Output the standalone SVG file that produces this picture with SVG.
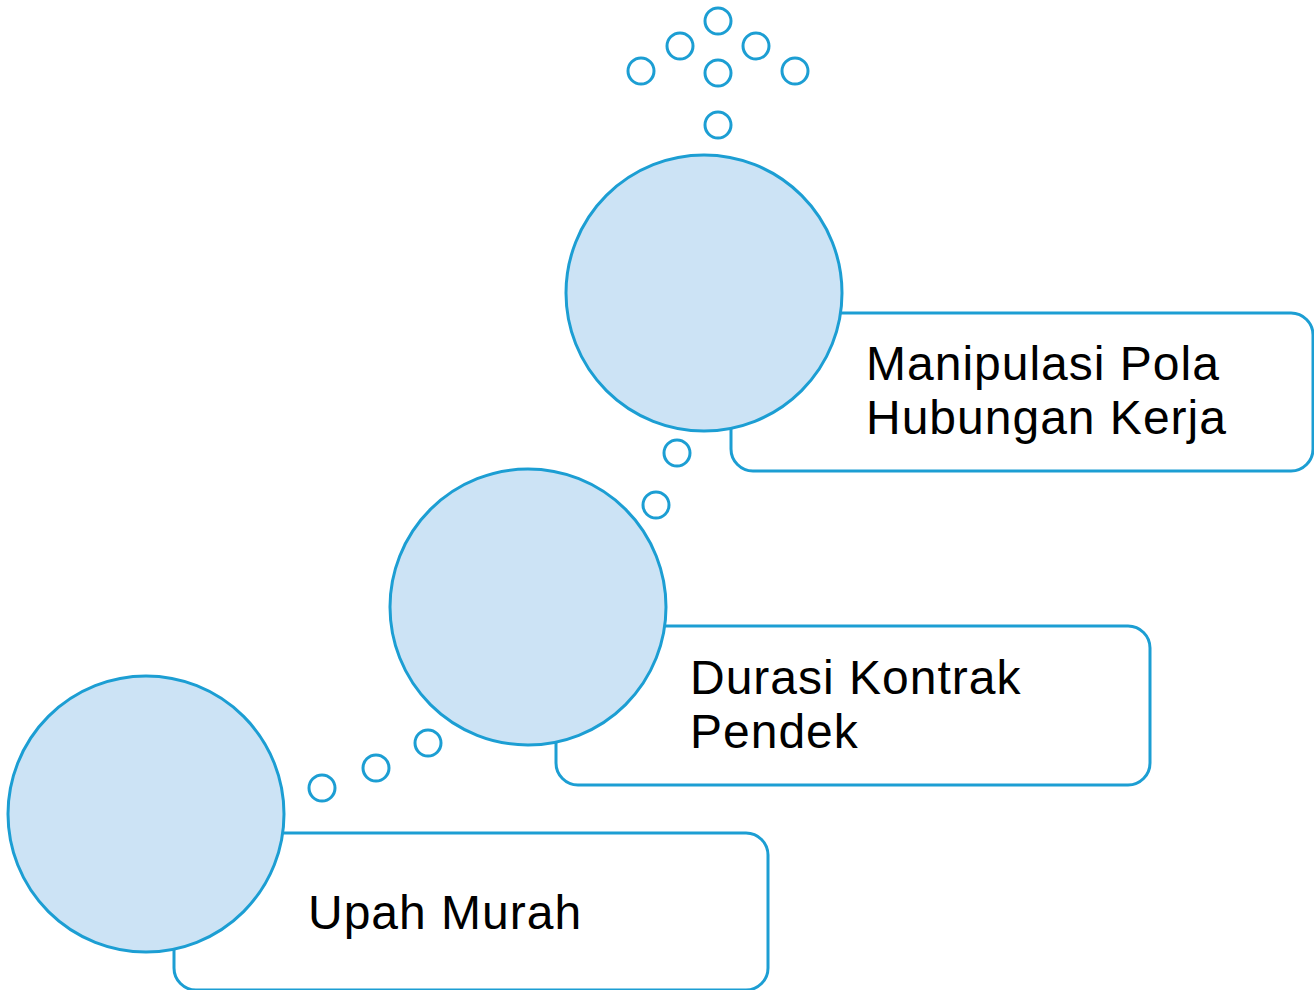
<svg xmlns="http://www.w3.org/2000/svg" width="1314" height="990" viewBox="0 0 1314 990">
<style>
.box{fill:#ffffff;stroke:#1c9ed3;stroke-width:3}
.big{fill:#cce3f5;stroke:#1c9ed3;stroke-width:3}
.dot{fill:none;stroke:#1c9ed3;stroke-width:3}
.t{font-family:"Liberation Sans",Arial,sans-serif;font-size:48px;letter-spacing:1px;fill:#000000}
</style>
<rect width="1314" height="990" fill="#ffffff"/>
<g id="connectors">
<circle class="dot" cx="718" cy="21" r="13"/>
<circle class="dot" cx="680" cy="46" r="13"/>
<circle class="dot" cx="756" cy="46" r="13"/>
<circle class="dot" cx="641" cy="71" r="13"/>
<circle class="dot" cx="718" cy="73" r="13"/>
<circle class="dot" cx="795" cy="71" r="13"/>
<circle class="dot" cx="718" cy="125" r="13"/>
<circle class="dot" cx="677" cy="453" r="13"/>
<circle class="dot" cx="656" cy="505" r="13"/>
<circle class="dot" cx="428" cy="743" r="13"/>
<circle class="dot" cx="376" cy="768" r="13"/>
<circle class="dot" cx="322" cy="788" r="13"/>
</g>
<g id="node-manipulasi">
<rect class="box" x="731" y="313" width="582" height="158" rx="22"/>
<circle class="big" cx="704" cy="293" r="138"/>
<text class="t" x="866" y="380">Manipulasi Pola</text>
<text class="t" x="866" y="434">Hubungan Kerja</text>
</g>
<g id="node-durasi">
<rect class="box" x="556" y="626" width="594" height="159" rx="22"/>
<circle class="big" cx="528" cy="607" r="138"/>
<text class="t" x="690" y="694">Durasi Kontrak</text>
<text class="t" x="690" y="748">Pendek</text>
</g>
<g id="node-upah">
<rect class="box" x="174" y="833" width="594" height="157" rx="22"/>
<circle class="big" cx="146" cy="814" r="138"/>
<text class="t" x="308" y="929">Upah Murah</text>
</g>
</svg>
